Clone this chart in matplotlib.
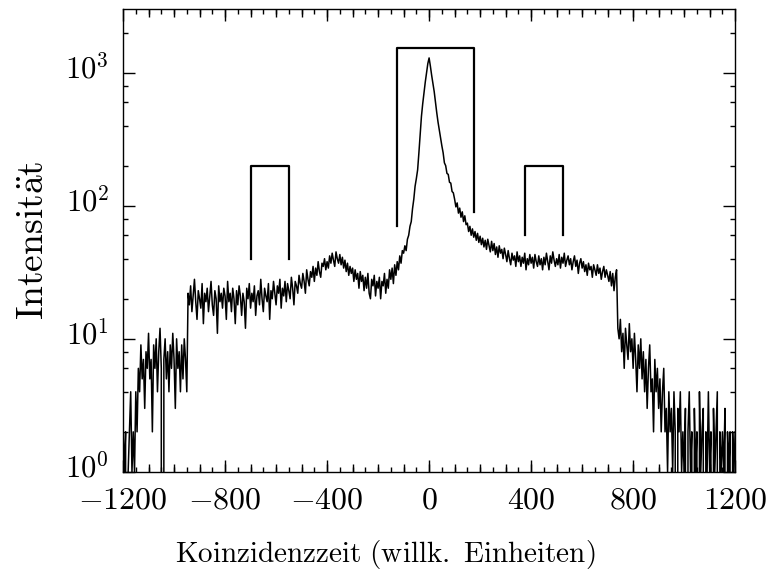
import numpy as np
import matplotlib
matplotlib.use("Agg")
import matplotlib.pyplot as plt
import matplotlib.transforms as mtransforms
from matplotlib.ticker import MultipleLocator, LogLocator, FixedLocator, NullFormatter, FuncFormatter

plt.rcParams['mathtext.fontset'] = 'cm'
plt.rcParams['font.family'] = 'serif'
plt.rcParams['font.serif'] = ['DejaVu Serif']

# coincidence time spectrum, one count per 5 channels, rows of 50 channels
x_start = -1200
x_step = 5
counts = [
    2, 1, 2, 0, 1, 2, 4, 1, 2, 1,            # -1200
    4, 2, 6, 4, 9, 5, 7, 3, 8, 6,            # -1150
    11, 5, 7, 2, 9, 6, 10, 4, 8, 12,         # -1100
    6, 0, 7, 10, 5, 8, 4, 9, 6, 11,          # -1050
    7, 3, 10, 6, 8, 4, 9, 5, 10, 7,          # -1000
    4, 22, 18, 25, 16, 21, 28, 19, 14, 23,   # -950
    20, 17, 26, 13, 22, 19, 24, 16, 21, 27,  # -900
    18, 15, 23, 20, 11, 25, 19, 22, 17, 24,  # -850
    21, 14, 27, 19, 22, 16, 24, 20, 13, 23,  # -800
    18, 25, 21, 15, 22, 19, 12, 24, 20, 26,  # -750
    17, 22, 19, 25, 15, 21, 23, 18, 28, 20,  # -700
    16, 24, 21, 19, 26, 14, 23, 20, 27, 22,  # -650
    18, 25, 22, 28, 17, 24, 21, 27, 19, 26,  # -600
    23, 20, 29, 24, 18, 27, 25, 22, 30, 26,  # -550
    24, 31, 27, 22, 33, 28, 25, 32, 29, 35,  # -500
    27, 34, 30, 38, 32, 29, 37, 35, 40, 33,  # -450
    38, 34, 42, 37, 44, 39, 35, 45, 40, 37,  # -400
    43, 36, 41, 34, 39, 32, 37, 30, 35, 31,  # -350
    34, 27, 33, 28, 31, 24, 32, 27, 30, 23,  # -300
    29, 24, 31, 22, 20, 28, 25, 30, 21, 27,  # -250
    24, 29, 20, 27, 25, 31, 22, 28, 24, 33,  # -200
    28, 34, 26, 36, 30, 38, 33, 42, 37, 46,  # -150
    44, 50, 46, 56, 60, 70, 76, 95, 112, 140,          # -100
    160, 186, 250, 345, 470, 585, 710, 850, 1000, 1170,  # -50
    1290, 1120, 955, 830, 720, 600, 500, 425, 370, 325,  # 0
    282, 250, 210, 200, 175, 172, 150, 148, 128, 125,    # 50
    112, 98, 105, 88, 96, 82, 90, 76, 84, 72,  # 100
    74, 64, 70, 60, 67, 58, 64, 55, 62, 53,    # 150
    59, 51, 57, 49, 55, 47, 56, 50, 45, 54,    # 200
    46, 52, 43, 49, 41, 50, 44, 47, 40, 48,    # 250
    43, 38, 46, 40, 36, 44, 39, 42, 35, 45,    # 300
    38, 42, 35, 41, 37, 44, 33, 40, 36, 43,    # 350
    37, 41, 34, 43, 38, 35, 42, 36, 40, 33,    # 400
    41, 36, 44, 38, 33, 42, 37, 45, 39, 35,    # 450
    40, 36, 43, 34, 41, 37, 44, 35, 39, 42,    # 500
    36, 40, 33, 38, 42, 35, 39, 31, 37, 40,    # 550
    34, 38, 32, 36, 30, 37, 33, 35, 29, 36,    # 600
    33, 30, 36, 31, 34, 28, 32, 35, 29, 33,    # 650
    30, 27, 32, 25, 31, 23, 29, 33, 12, 10,    # 700
    14, 8, 11, 6, 12, 9, 7, 13, 8, 10,         # 750
    6, 11, 7, 4, 9, 6, 10, 5, 8, 4,            # 800
    7, 3, 6, 9, 4, 5, 2, 7, 4, 6,              # 850
    3, 5, 2, 4, 6, 2, 3, 1, 4, 2,              # 900
    3, 1, 4, 2, 0, 3, 2, 4, 1, 2,              # 950
    1, 3, 0, 2, 4, 1, 2, 0, 3, 1,              # 1000
    2, 0, 4, 1, 2, 3, 0, 2, 1, 4,              # 1050
    1, 2, 0, 3, 1, 2, 4, 0, 2, 1,              # 1100
    2, 1, 3, 0, 2, 1, 2, 0, 2, 1,              # 1150
    2,                                         # 1200
]

# integration windows (brackets): edges, top level, foot of each leg
win_lo = [-700, -125, 375]
win_hi = [-550, 175, 525]
win_top = [200, 1530, 200]
win_foot_lo = [40, 70, 60]
win_foot_hi = [40, 90, 60]

chan = x_start + x_step * np.arange(len(counts))
counts = np.array(counts, dtype=float)

fig = plt.figure(figsize=(7.69, 5.72), dpi=100)
ax = fig.add_axes([0.16, 0.175, 0.796, 0.809])

ax.plot(chan, counts, color='black', lw=1.1)

for lo, hi, top, f1, f2 in zip(win_lo, win_hi, win_top, win_foot_lo, win_foot_hi):
    ax.plot([lo, lo, hi, hi], [f1, top, top, f2], color='black', lw=1.6)

ax.set_yscale('log', nonpositive='clip')
ax.set_xlim(-1200, 1200)
ax.set_ylim(1, 3000)

ax.xaxis.set_major_locator(MultipleLocator(400))
ax.xaxis.set_minor_locator(MultipleLocator(50))
ax.yaxis.set_major_locator(LogLocator(base=10, numticks=10))
ax.yaxis.set_minor_locator(LogLocator(base=10, subs=[2, 4, 6, 8], numticks=10))
ax.yaxis.set_minor_formatter(NullFormatter())

ax.xaxis.set_major_formatter(FuncFormatter(lambda v, p: r'$%d$' % v))
ax.yaxis.set_major_formatter(FuncFormatter(lambda v, p: r'$10^{%d}$' % round(np.log10(v))))

ax.tick_params(which='both', direction='in', top=True, right=True, width=1.0)
ax.tick_params(which='major', length=8.5)
ax.tick_params(which='minor', length=3.6)
ax.tick_params(axis='x', which='major', labelsize=23, pad=9)
ax.tick_params(axis='y', which='major', labelsize=22, pad=10)

# lift the 10^n labels so the digits sit centred on their ticks
lift = mtransforms.ScaledTranslation(0, 5 / 72, fig.dpi_scale_trans)
for lab in ax.get_yticklabels():
    lab.set_transform(lab.get_transform() + lift)

# medium ticks every 100 on top and bottom
for loc in ('top', 'bottom'):
    sec = ax.secondary_xaxis(loc)
    sec.xaxis.set_major_locator(FixedLocator(np.arange(-1100, 1200, 100)))
    sec.xaxis.set_major_formatter(NullFormatter())
    sec.tick_params(direction='in', length=5.8, width=1.0)
    sec.spines[loc].set_visible(False)

for s in ax.spines.values():
    s.set_linewidth(1.0)

ax.set_xlabel(r'$\mathrm{Koinzidenzzeit\ (willk.\ Einheiten)}$', fontsize=21)
ax.xaxis.set_label_coords(0.428, -0.142)
ax.set_ylabel(r'$\mathrm{Intensit\ddot{a}t}$', fontsize=27, labelpad=10)

fig.savefig('out.png', dpi=100)
